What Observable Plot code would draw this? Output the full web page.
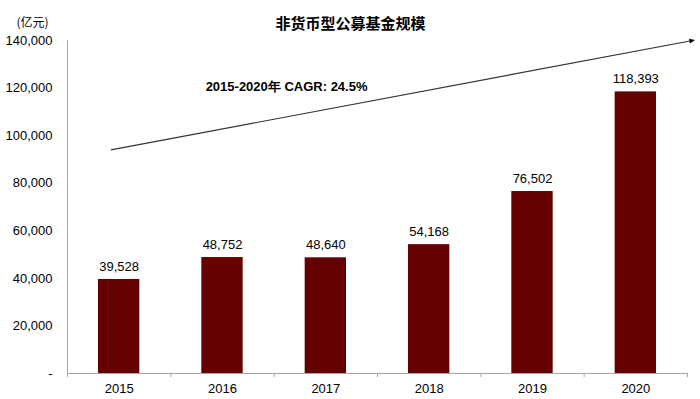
<!DOCTYPE html>
<html><head><meta charset="utf-8">
<script src="https://cdn.jsdelivr.net/npm/d3@7"></script>
<script src="https://cdn.jsdelivr.net/npm/@observablehq/plot@0.6"></script>
<style>
html,body{margin:0;padding:0;background:#fff;}
</style>
</head><body>
<div id="chart"></div>
<script>
const years = [2015, 2016, 2017, 2018, 2019, 2020];
const values = [39528, 48752, 48640, 54168, 76502, 118393];
const yTicks = [0, 20000, 40000, 60000, 80000, 100000, 120000, 140000];
const title = "非货币型公募基金规模";
const unitLabel = "(亿元)";
const cagrLabel = "2015-2020年 CAGR: 24.5%";
// trend arrow endpoints (year position, value)
const arrowFrom = {x: 2014.92, y: 94000};
const arrowTo = {x: 2020.55, y: 140000};
const cagrPos = {x: 2016.62, y: 120700};

const data = years.map((y, i) => ({year: y, value: values[i]}));
const fmt = d3.format(",");
const barColor = "#650000";
const font = "'Liberation Sans', Arial, sans-serif";

const plot = Plot.plot({
  width: 700,
  height: 399,
  marginTop: 40,
  marginBottom: 26,
  marginLeft: 67,
  marginRight: 13,
  style: {fontFamily: font, fontSize: "13px", color: "#000", background: "#fff"},
  x: {domain: [2014.5, 2020.5], axis: null},
  y: {domain: [0, 140000], axis: null},
  marks: [
    Plot.rectY(data, {x1: d => d.year - 0.2, x2: d => d.year + 0.2, y: "value", fill: barColor}),
    Plot.ruleX([2014.5], {stroke: "#a6a6a6", strokeWidth: 1}),
    Plot.ruleY([0], {stroke: "#a6a6a6", strokeWidth: 1}),
    Plot.axisX({ticks: d3.range(2014.5, 2021, 1), tickSize: 4, tickFormat: () => "", stroke: "#a6a6a6"}),
    Plot.axisX({ticks: years, tickSize: 0, tickPadding: 10, tickFormat: d => String(d), fontSize: 13}),
    Plot.axisY({ticks: yTicks, tickSize: 0, tickPadding: 15, tickFormat: d => d === 0 ? "-" : fmt(d), fontSize: 13}),
    Plot.text(data, {x: "year", y: "value", text: d => fmt(d.value), dy: -13, fontSize: 13, fill: "#000"}),
    Plot.link([{x1: arrowFrom.x, y1: arrowFrom.y, x2: arrowTo.x, y2: arrowTo.y}], {x1: "x1", y1: "y1", x2: "x2", y2: "y2", stroke: "#333", strokeWidth: 1.2, markerEnd: "arrow"}),
    Plot.text([cagrLabel], {x: cagrPos.x, y: cagrPos.y, text: d => d, fontWeight: "bold", fontSize: 13, fill: "#000"}),
    Plot.text([title], {frameAnchor: "top", dx: -27, dy: -22, fontSize: 15, fontWeight: "bold", fontFamily: "'Noto Sans CJK SC', sans-serif", fill: "#000"}),
    Plot.text([unitLabel], {frameAnchor: "top-left", dx: -35, dy: -22, textAnchor: "middle", fontSize: 12, fontFamily: "'Noto Sans CJK SC', sans-serif", fill: "#000"})
  ]
});
// make arrowhead a filled triangle
plot.querySelectorAll("marker path").forEach(p => {
  p.setAttribute("d", "M-4,-3L3,0L-4,3Z");
  p.setAttribute("fill", "#000");
  p.setAttribute("stroke", "none");
});
document.getElementById("chart").appendChild(plot);
</script>
</body></html>
